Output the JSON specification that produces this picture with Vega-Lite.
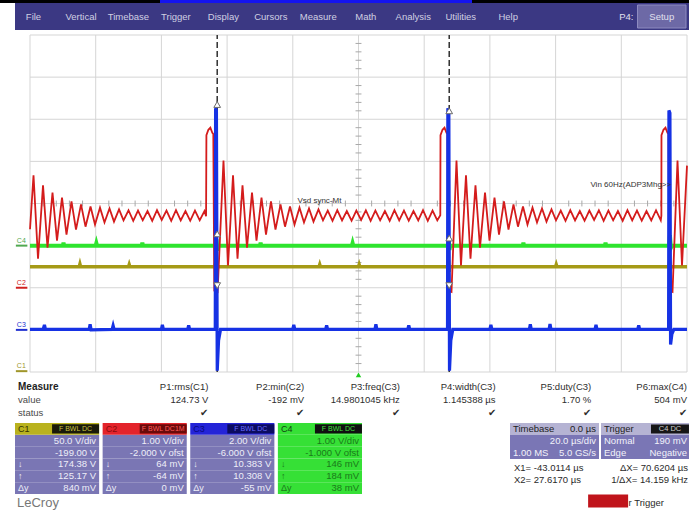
{
  "$schema": "https://vega.github.io/schema/vega-lite/v6.json",
  "width": 689,
  "height": 510,
  "padding": 0,
  "autosize": {"type": "none"},
  "background": "#ffffff",
  "config": {
    "view": {"stroke": null},
    "axis": {"disable": true},
    "legend": {"disable": true},
    "text": {"font": "Liberation Sans"}
  },
  "datasets": {
    "menu": [{"item": "File"}, {"item": "Vertical"}, {"item": "Timebase"}, {"item": "Trigger"}, {"item": "Display"}, {"item": "Cursors"}, {"item": "Measure"}, {"item": "Math"}, {"item": "Analysis"}, {"item": "Utilities"}, {"item": "Help"}],
    "vgrid": [{"t": -100}, {"t": -80}, {"t": -60}, {"t": -40}, {"t": -20}, {"t": 0}, {"t": 20}, {"t": 40}, {"t": 60}, {"t": 80}, {"t": 100}],
    "hgrid": [{"v": -4}, {"v": -3}, {"v": -2}, {"v": -1}, {"v": 0}, {"v": 1}, {"v": 2}, {"v": 3}, {"v": 4}],
    "tickx": [{"t": -96}, {"t": -92}, {"t": -88}, {"t": -84}, {"t": -76}, {"t": -72}, {"t": -68}, {"t": -64}, {"t": -56}, {"t": -52}, {"t": -48}, {"t": -44}, {"t": -36}, {"t": -32}, {"t": -28}, {"t": -24}, {"t": -16}, {"t": -12}, {"t": -8}, {"t": -4}, {"t": 4}, {"t": 8}, {"t": 12}, {"t": 16}, {"t": 24}, {"t": 28}, {"t": 32}, {"t": 36}, {"t": 44}, {"t": 48}, {"t": 52}, {"t": 56}, {"t": 64}, {"t": 68}, {"t": 72}, {"t": 76}, {"t": 84}, {"t": 88}, {"t": 92}, {"t": 96}],
    "ticky": [{"v": -3.8}, {"v": -3.6}, {"v": -3.4}, {"v": -3.2}, {"v": -2.8}, {"v": -2.6}, {"v": -2.4}, {"v": -2.2}, {"v": -1.8}, {"v": -1.6}, {"v": -1.4}, {"v": -1.2}, {"v": -0.8}, {"v": -0.6}, {"v": -0.4}, {"v": -0.2}, {"v": 0.2}, {"v": 0.4}, {"v": 0.6}, {"v": 0.8}, {"v": 1.2}, {"v": 1.4}, {"v": 1.6}, {"v": 1.8}, {"v": 2.2}, {"v": 2.4}, {"v": 2.6}, {"v": 2.8}, {"v": 3.2}, {"v": 3.4}, {"v": 3.6}, {"v": 3.8}],
    "cursors": [{"cursor": "X1", "t": -43.0114}, {"cursor": "X2", "t": 27.617}],
    "c1": [{"t": -100, "v": -1.5}, {"t": -85, "v": -1.5}, {"t": -84.8, "v": -1.44}, {"t": -84.6, "v": -1.5}, {"t": -70, "v": -1.5}, {"t": -69.8, "v": -1.45}, {"t": -69.6, "v": -1.5}, {"t": -43.6, "v": -1.5}, {"t": -43.4, "v": -1.34}, {"t": -43.2, "v": -1.64}, {"t": -43.0, "v": -1.5}, {"t": -12, "v": -1.5}, {"t": -11.8, "v": -1.45}, {"t": -11.6, "v": -1.5}, {"t": 0, "v": -1.5}, {"t": 0.2, "v": -1.45}, {"t": 0.4, "v": -1.5}, {"t": 27.2, "v": -1.5}, {"t": 27.4, "v": -1.35}, {"t": 27.6, "v": -1.62}, {"t": 27.8, "v": -1.5}, {"t": 60, "v": -1.5}, {"t": 60.2, "v": -1.45}, {"t": 60.4, "v": -1.5}, {"t": 94.5, "v": -1.5}, {"t": 94.7, "v": -1.38}, {"t": 94.9, "v": -1.58}, {"t": 95.1, "v": -1.5}, {"t": 100, "v": -1.5}],
    "c4": [{"t": -100, "v": -1.0}, {"t": -90, "v": -1.0}, {"t": -89.8, "v": -0.93}, {"t": -89.6, "v": -1.0}, {"t": -80, "v": -1.0}, {"t": -79.8, "v": -0.94}, {"t": -79.6, "v": -1.0}, {"t": -66, "v": -1.0}, {"t": -65.8, "v": -0.93}, {"t": -65.6, "v": -1.0}, {"t": -43.4, "v": -1.0}, {"t": -43.2, "v": -0.85}, {"t": -43.0, "v": -1.12}, {"t": -42.8, "v": -1.0}, {"t": -30, "v": -1.0}, {"t": -29.8, "v": -0.93}, {"t": -29.6, "v": -1.0}, {"t": -2, "v": -1.0}, {"t": -1.8, "v": -0.94}, {"t": -1.6, "v": -1.0}, {"t": 27.3, "v": -1.0}, {"t": 27.5, "v": -0.86}, {"t": 27.7, "v": -1.1}, {"t": 27.9, "v": -1.0}, {"t": 50, "v": -1.0}, {"t": 50.2, "v": -0.93}, {"t": 50.4, "v": -1.0}, {"t": 75, "v": -1.0}, {"t": 75.2, "v": -0.93}, {"t": 75.4, "v": -1.0}, {"t": 94.6, "v": -1.0}, {"t": 94.8, "v": -0.75}, {"t": 95.1, "v": -1.05}, {"t": 95.4, "v": -1.0}, {"t": 100, "v": -1.0}],
    "c3": [{"t": -100, "v": -2.99}, {"t": -96, "v": -2.99}, {"t": -95.6, "v": -2.88}, {"t": -95.3, "v": -2.99}, {"t": -82, "v": -2.99}, {"t": -81.7, "v": -2.87}, {"t": -81.4, "v": -3.0}, {"t": -75, "v": -2.99}, {"t": -74.7, "v": -2.9}, {"t": -74.4, "v": -2.99}, {"t": -60, "v": -2.99}, {"t": -59.7, "v": -2.88}, {"t": -59.4, "v": -2.99}, {"t": -52, "v": -2.99}, {"t": -51.7, "v": -2.89}, {"t": -51.4, "v": -2.99}, {"t": -43.6, "v": -2.99}, {"t": -43.5, "v": 2.26}, {"t": -43.25, "v": 2.2}, {"t": -43.0, "v": -3.97}, {"t": -42.6, "v": -3.25}, {"t": -42.0, "v": -2.99}, {"t": -20, "v": -2.99}, {"t": -19.7, "v": -2.88}, {"t": -19.4, "v": -2.99}, {"t": -10, "v": -2.99}, {"t": -9.7, "v": -2.89}, {"t": -9.4, "v": -2.99}, {"t": 5, "v": -2.99}, {"t": 5.3, "v": -2.87}, {"t": 5.6, "v": -2.99}, {"t": 15, "v": -2.99}, {"t": 15.3, "v": -2.89}, {"t": 15.6, "v": -2.99}, {"t": 27.1, "v": -2.99}, {"t": 27.2, "v": 2.26}, {"t": 27.5, "v": 2.2}, {"t": 27.7, "v": -3.97}, {"t": 28.1, "v": -3.25}, {"t": 28.7, "v": -2.99}, {"t": 40, "v": -2.99}, {"t": 40.3, "v": -2.88}, {"t": 40.6, "v": -2.99}, {"t": 52, "v": -2.99}, {"t": 52.3, "v": -2.87}, {"t": 52.6, "v": -2.99}, {"t": 58, "v": -2.99}, {"t": 58.3, "v": -2.86}, {"t": 58.6, "v": -2.99}, {"t": 72, "v": -2.99}, {"t": 72.3, "v": -2.88}, {"t": 72.6, "v": -2.99}, {"t": 85, "v": -2.99}, {"t": 85.3, "v": -2.89}, {"t": 85.6, "v": -2.99}, {"t": 94.4, "v": -2.99}, {"t": 94.5, "v": 2.21}, {"t": 94.8, "v": 2.15}, {"t": 95.0, "v": -3.35}, {"t": 95.4, "v": -3.1}, {"t": 96.0, "v": -2.99}, {"t": 100, "v": -2.99}],
    "c2": [{"t": -100, "v": -0.61}, {"t": -98.93, "v": 0.67}, {"t": -97.56, "v": -1.31}, {"t": -96.04, "v": 0.43}, {"t": -94.67, "v": -1.05}, {"t": -93.15, "v": 0.26}, {"t": -91.78, "v": -0.88}, {"t": -90.26, "v": 0.14}, {"t": -88.89, "v": -0.74}, {"t": -87.37, "v": 0.05}, {"t": -86.0, "v": -0.62}, {"t": -84.47, "v": -0.02}, {"t": -83.1, "v": -0.55}, {"t": -81.58, "v": -0.07}, {"t": -80.21, "v": -0.5}, {"t": -78.69, "v": -0.1}, {"t": -77.32, "v": -0.45}, {"t": -75.8, "v": -0.12}, {"t": -74.43, "v": -0.43}, {"t": -72.9, "v": -0.14}, {"t": -71.53, "v": -0.4}, {"t": -70.01, "v": -0.16}, {"t": -68.57, "v": -0.41}, {"t": -67.12, "v": -0.17}, {"t": -65.68, "v": -0.4}, {"t": -64.23, "v": -0.18}, {"t": -62.79, "v": -0.41}, {"t": -61.34, "v": -0.16}, {"t": -59.9, "v": -0.39}, {"t": -58.45, "v": -0.17}, {"t": -57.01, "v": -0.41}, {"t": -55.56, "v": -0.16}, {"t": -54.12, "v": -0.4}, {"t": -52.67, "v": -0.18}, {"t": -51.23, "v": -0.41}, {"t": -49.78, "v": -0.17}, {"t": -48.34, "v": -0.4}, {"t": -46.89, "v": -0.18}, {"t": -46.4, "v": -0.3}, {"t": -46.3, "v": 1.62}, {"t": -45.7, "v": 1.75}, {"t": -45.1, "v": 1.8}, {"t": -44.5, "v": 1.68}, {"t": -44.2, "v": 1.65}, {"t": -43.9, "v": -2.07}, {"t": -42.9, "v": -2.1}, {"t": -41.1, "v": 1.02}, {"t": -39.72, "v": -1.47}, {"t": -38.2, "v": 0.67}, {"t": -36.83, "v": -1.31}, {"t": -35.31, "v": 0.43}, {"t": -33.94, "v": -1.05}, {"t": -32.42, "v": 0.26}, {"t": -31.05, "v": -0.88}, {"t": -29.53, "v": 0.14}, {"t": -28.16, "v": -0.74}, {"t": -26.64, "v": 0.05}, {"t": -25.27, "v": -0.62}, {"t": -23.74, "v": -0.02}, {"t": -22.37, "v": -0.55}, {"t": -20.85, "v": -0.07}, {"t": -19.48, "v": -0.5}, {"t": -17.96, "v": -0.1}, {"t": -16.59, "v": -0.45}, {"t": -15.07, "v": -0.12}, {"t": -13.7, "v": -0.43}, {"t": -12.18, "v": -0.14}, {"t": -10.81, "v": -0.4}, {"t": -9.36, "v": -0.17}, {"t": -7.91, "v": -0.41}, {"t": -6.46, "v": -0.16}, {"t": -5.01, "v": -0.4}, {"t": -3.56, "v": -0.18}, {"t": -2.11, "v": -0.41}, {"t": -0.66, "v": -0.17}, {"t": 0.79, "v": -0.39}, {"t": 2.24, "v": -0.16}, {"t": 3.69, "v": -0.41}, {"t": 5.14, "v": -0.17}, {"t": 6.59, "v": -0.4}, {"t": 8.04, "v": -0.18}, {"t": 9.49, "v": -0.41}, {"t": 10.94, "v": -0.16}, {"t": 12.39, "v": -0.4}, {"t": 13.84, "v": -0.17}, {"t": 15.29, "v": -0.41}, {"t": 16.74, "v": -0.18}, {"t": 18.19, "v": -0.4}, {"t": 19.64, "v": -0.16}, {"t": 21.09, "v": -0.41}, {"t": 22.54, "v": -0.17}, {"t": 23.99, "v": -0.4}, {"t": 24.9, "v": -0.28}, {"t": 24.96, "v": 1.62}, {"t": 25.57, "v": 1.75}, {"t": 26.18, "v": 1.8}, {"t": 26.79, "v": 1.68}, {"t": 27.09, "v": 1.65}, {"t": 27.4, "v": -2.07}, {"t": 28.31, "v": -2.1}, {"t": 29.83, "v": 1.02}, {"t": 31.2, "v": -1.47}, {"t": 32.72, "v": 0.67}, {"t": 34.09, "v": -1.31}, {"t": 35.61, "v": 0.43}, {"t": 36.98, "v": -1.05}, {"t": 38.51, "v": 0.26}, {"t": 39.88, "v": -0.88}, {"t": 41.4, "v": 0.14}, {"t": 42.77, "v": -0.74}, {"t": 44.29, "v": 0.05}, {"t": 45.66, "v": -0.62}, {"t": 47.18, "v": -0.02}, {"t": 48.55, "v": -0.55}, {"t": 50.07, "v": -0.07}, {"t": 51.44, "v": -0.5}, {"t": 52.97, "v": -0.1}, {"t": 54.34, "v": -0.45}, {"t": 55.86, "v": -0.12}, {"t": 57.23, "v": -0.43}, {"t": 58.75, "v": -0.14}, {"t": 60.12, "v": -0.4}, {"t": 61.57, "v": -0.17}, {"t": 63.02, "v": -0.41}, {"t": 64.47, "v": -0.16}, {"t": 65.92, "v": -0.4}, {"t": 67.37, "v": -0.18}, {"t": 68.82, "v": -0.41}, {"t": 70.27, "v": -0.17}, {"t": 71.72, "v": -0.39}, {"t": 73.17, "v": -0.16}, {"t": 74.62, "v": -0.41}, {"t": 76.07, "v": -0.17}, {"t": 77.52, "v": -0.4}, {"t": 78.97, "v": -0.18}, {"t": 80.42, "v": -0.41}, {"t": 81.87, "v": -0.16}, {"t": 83.32, "v": -0.4}, {"t": 84.77, "v": -0.17}, {"t": 86.22, "v": -0.41}, {"t": 87.67, "v": -0.18}, {"t": 89.12, "v": -0.4}, {"t": 90.57, "v": -0.16}, {"t": 92.02, "v": -0.4}, {"t": 92.2, "v": -0.29}, {"t": 92.23, "v": 1.62}, {"t": 92.84, "v": 1.75}, {"t": 93.45, "v": 1.8}, {"t": 94.06, "v": 1.68}, {"t": 94.37, "v": 1.65}, {"t": 94.67, "v": -2.07}, {"t": 95.59, "v": -2.1}, {"t": 97.11, "v": 1.02}, {"t": 98.48, "v": -1.47}, {"t": 100, "v": 0.9}],
    "markers": [{"t": -43.0114, "v": 2.35, "dir": "up"}, {"t": 27.617, "v": 2.2, "dir": "up"}, {"t": -43.0114, "v": -0.72, "dir": "up"}, {"t": 27.617, "v": -0.82, "dir": "up"}, {"t": -43.0114, "v": -1.95, "dir": "down"}, {"t": 27.617, "v": -1.95, "dir": "down"}],
    "chlabels": [{"ch": "C4", "v": -1.0}, {"ch": "C2", "v": -2.0}, {"ch": "C3", "v": -3.0}, {"ch": "C1", "v": -3.98}],
    "notes": [{"t": -18.6, "v": 0.07, "note": "Vsd sync-Mt"}, {"t": 70.6, "v": 0.45, "note": "Vin 60Hz(ADP3Mhg>>"}],
    "trig": [{"t": 0, "v": -4.07}],
    "measure": [
      {"col": "label", "row": "Measure", "txt": "Measure"}, {"col": "label", "row": "value", "txt": "value"}, {"col": "label", "row": "status", "txt": "status"},
      {"col": "P1", "row": "Measure", "txt": "P1:rms(C1)"}, {"col": "P1", "row": "value", "txt": "124.73 V"}, {"col": "P1", "row": "status", "txt": "✔"},
      {"col": "P2", "row": "Measure", "txt": "P2:min(C2)"}, {"col": "P2", "row": "value", "txt": "-192 mV"}, {"col": "P2", "row": "status", "txt": "✔"},
      {"col": "P3", "row": "Measure", "txt": "P3:freq(C3)"}, {"col": "P3", "row": "value", "txt": "14.9801045 kHz"}, {"col": "P3", "row": "status", "txt": "✔"},
      {"col": "P4", "row": "Measure", "txt": "P4:width(C3)"}, {"col": "P4", "row": "value", "txt": "1.145388 µs"}, {"col": "P4", "row": "status", "txt": "✔"},
      {"col": "P5", "row": "Measure", "txt": "P5:duty(C3)"}, {"col": "P5", "row": "value", "txt": "1.70 %"}, {"col": "P5", "row": "status", "txt": "✔"},
      {"col": "P6", "row": "Measure", "txt": "P6:max(C4)"}, {"col": "P6", "row": "value", "txt": "504 mV"}, {"col": "P6", "row": "status", "txt": "✔"}
    ],
    "boxes": [
      {"ch": "C1", "r": "h", "txt": "C1", "sym": "F BWL DC"},
      {"ch": "C1", "r": "1", "txt": "50.0 V/div", "sym": ""},
      {"ch": "C1", "r": "2", "txt": "-199.00 V", "sym": ""},
      {"ch": "C1", "r": "3", "txt": "174.38 V", "sym": "↓"},
      {"ch": "C1", "r": "4", "txt": "125.17 V", "sym": "↑"},
      {"ch": "C1", "r": "5", "txt": "840 mV", "sym": "Δy"},
      {"ch": "C2", "r": "h", "txt": "C2", "sym": "F BWL DC1M"},
      {"ch": "C2", "r": "1", "txt": "1.00 V/div", "sym": ""},
      {"ch": "C2", "r": "2", "txt": "-2.000 V ofst", "sym": ""},
      {"ch": "C2", "r": "3", "txt": "64 mV", "sym": "↓"},
      {"ch": "C2", "r": "4", "txt": "-64 mV", "sym": "↑"},
      {"ch": "C2", "r": "5", "txt": "0 mV", "sym": "Δy"},
      {"ch": "C3", "r": "h", "txt": "C3", "sym": "F BWL DC"},
      {"ch": "C3", "r": "1", "txt": "2.00 V/div", "sym": ""},
      {"ch": "C3", "r": "2", "txt": "-6.000 V ofst", "sym": ""},
      {"ch": "C3", "r": "3", "txt": "10.383 V", "sym": "↓"},
      {"ch": "C3", "r": "4", "txt": "10.308 V", "sym": "↑"},
      {"ch": "C3", "r": "5", "txt": "-55 mV", "sym": "Δy"},
      {"ch": "C4", "r": "h", "txt": "C4", "sym": "F BWL DC"},
      {"ch": "C4", "r": "1", "txt": "1.00 V/div", "sym": ""},
      {"ch": "C4", "r": "2", "txt": "-1.000 V ofst", "sym": ""},
      {"ch": "C4", "r": "3", "txt": "146 mV", "sym": "↓"},
      {"ch": "C4", "r": "4", "txt": "184 mV", "sym": "↑"},
      {"ch": "C4", "r": "5", "txt": "38 mV", "sym": "Δy"},
      {"ch": "C1", "r": "logo", "txt": "LeCroy", "sym": ""}
    ],
    "panel": [
      {"p": "tb", "r": "h", "left": "Timebase", "right": "0.0 µs"},
      {"p": "trg", "r": "h", "left": "Trigger", "right": "", "chip": "C4 DC"},
      {"p": "tb", "r": "1", "left": "", "right": "20.0 µs/div"},
      {"p": "trg", "r": "1", "left": "Normal", "right": "190 mV"},
      {"p": "tb", "r": "2", "left": "1.00 MS", "right": "5.0 GS/s"},
      {"p": "trg", "r": "2", "left": "Edge", "right": "Negative"},
      {"p": "tb", "r": "x1", "left": "X1= -43.0114 µs", "right": ""},
      {"p": "trg", "r": "x1", "left": "", "right": "ΔX= 70.6204 µs"},
      {"p": "tb", "r": "x2", "left": "X2= 27.6170 µs", "right": ""},
      {"p": "trg", "r": "x2", "left": "", "right": "1/ΔX= 14.159 kHz"},
      {"p": "trg", "r": "msg", "left": "r Trigger", "right": ""}
    ]
  },
  "resolve": {"scale": {"x": "independent", "y": "independent", "color": "independent", "shape": "independent"}},
  "layer": [
    {
      "data": {"values": [{"zone": "frame"}]},
      "mark": {"type": "rect", "color": "#000000"},
      "encoding": {
        "x": {"field": "zone", "type": "nominal", "axis": null, "scale": {"type": "band", "domain": ["frame"], "range": [0, 689], "paddingInner": 0, "paddingOuter": 0}},
        "y": {"field": "zone", "type": "nominal", "axis": null, "scale": {"type": "band", "domain": ["frame"], "range": [0, 3], "paddingInner": 0, "paddingOuter": 0}}
      }
    },
    {
      "data": {"values": [{"zone": "tab"}]},
      "mark": {"type": "rect", "color": "#1414f0"},
      "encoding": {
        "x": {"field": "zone", "type": "nominal", "axis": null, "scale": {"type": "band", "domain": ["tab"], "range": [160, 472], "paddingInner": 0, "paddingOuter": 0}},
        "y": {"field": "zone", "type": "nominal", "axis": null, "scale": {"type": "band", "domain": ["tab"], "range": [0, 3], "paddingInner": 0, "paddingOuter": 0}}
      }
    },
    {
      "data": {"values": [{"zone": "menubar"}]},
      "mark": {"type": "rect", "color": "#3b3883"},
      "encoding": {
        "x": {"field": "zone", "type": "nominal", "axis": null, "scale": {"type": "band", "domain": ["menubar"], "range": [15, 689], "paddingInner": 0, "paddingOuter": 0}},
        "y": {"field": "zone", "type": "nominal", "axis": null, "scale": {"type": "band", "domain": ["menubar"], "range": [3, 30], "paddingInner": 0, "paddingOuter": 0}}
      }
    },
    {
      "data": {"name": "menu"},
      "mark": {"type": "text", "align": "center", "baseline": "middle", "fontSize": 9.5, "color": "#d0d0e2"},
      "encoding": {
        "x": {"field": "item", "type": "nominal", "sort": null, "axis": null, "scale": {"type": "point", "domain": ["File", "Vertical", "Timebase", "Trigger", "Display", "Cursors", "Measure", "Math", "Analysis", "Utilities", "Help"], "range": [33.5, 508.2], "padding": 0}},
        "y": {"datum": "menubar", "type": "nominal", "axis": null, "scale": {"type": "band", "domain": ["menubar"], "range": [3, 30], "paddingInner": 0, "paddingOuter": 0}},
        "text": {"field": "item"}
      }
    },
    {
      "data": {"values": [{"item": "P4:", "row": "btn"}, {"item": "Setup", "row": "btn"}]},
      "layer": [
        {
          "transform": [{"filter": "datum.item == 'Setup'"}],
          "mark": {"type": "rect", "color": "#6d69a6", "stroke": "#8e8bc0", "strokeWidth": 1},
          "encoding": {
            "x": {"field": "item", "type": "nominal", "axis": null, "scale": {"type": "band", "domain": ["P4:", "Setup"], "range": [589, 686], "paddingInner": 0, "paddingOuter": 0}},
            "y": {"field": "row", "type": "nominal", "axis": null, "scale": {"type": "band", "domain": ["btn"], "range": [5, 28], "paddingInner": 0, "paddingOuter": 0}}
          }
        },
        {
          "transform": [{"filter": "datum.item == 'Setup'"}],
          "mark": {"type": "text", "align": "center", "baseline": "middle", "fontSize": 9.5, "color": "#e0e0ee"},
          "encoding": {
            "x": {"field": "item", "type": "nominal", "axis": null},
            "y": {"field": "row", "type": "nominal", "axis": null},
            "text": {"field": "item"}
          }
        },
        {
          "transform": [{"filter": "datum.item == 'P4:'"}],
          "mark": {"type": "text", "align": "right", "baseline": "middle", "fontSize": 9.5, "color": "#e0e0ee", "dx": -4},
          "encoding": {
            "x": {"field": "item", "type": "nominal", "axis": null, "bandPosition": 1},
            "y": {"field": "row", "type": "nominal", "axis": null},
            "text": {"field": "item"}
          }
        }
      ]
    },
    {
      "layer": [
        {
          "data": {"name": "vgrid"},
          "mark": {"type": "rule", "color": "#d5d5d5", "strokeWidth": 1},
          "encoding": {
            "x": {"field": "t", "type": "quantitative", "axis": null, "scale": {"domain": [-100, 100], "range": [30, 687], "nice": false, "zero": false}},
            "y": {"datum": -4, "type": "quantitative", "axis": null, "scale": {"domain": [-4, 4], "range": [372, 35], "nice": false, "zero": false}},
            "y2": {"datum": 4}
          }
        },
        {
          "data": {"name": "hgrid"},
          "mark": {"type": "rule", "color": "#d5d5d5", "strokeWidth": 1},
          "encoding": {
            "x": {"datum": -100, "type": "quantitative", "axis": null},
            "x2": {"datum": 100},
            "y": {"field": "v", "type": "quantitative", "axis": null}
          }
        },
        {
          "data": {"name": "tickx"},
          "mark": {"type": "rule", "color": "#a8a8a8", "strokeWidth": 1},
          "encoding": {
            "x": {"field": "t", "type": "quantitative", "axis": null},
            "y": {"datum": -0.07, "type": "quantitative", "axis": null},
            "y2": {"datum": 0.07}
          }
        },
        {
          "data": {"name": "ticky"},
          "mark": {"type": "rule", "color": "#a8a8a8", "strokeWidth": 1},
          "encoding": {
            "x": {"datum": -0.9, "type": "quantitative", "axis": null},
            "x2": {"datum": 0.9},
            "y": {"field": "v", "type": "quantitative", "axis": null}
          }
        },
        {
          "data": {"name": "cursors"},
          "mark": {"type": "rule", "color": "#303030", "strokeWidth": 1.5, "strokeDash": [6, 3]},
          "encoding": {
            "x": {"field": "t", "type": "quantitative", "axis": null},
            "y": {"datum": -4, "type": "quantitative", "axis": null},
            "y2": {"datum": 4}
          }
        },
        {
          "data": {"name": "c1"},
          "mark": {"type": "line", "color": "#a59a16", "strokeWidth": 3.5},
          "encoding": {
            "x": {"field": "t", "type": "quantitative", "axis": null},
            "y": {"field": "v", "type": "quantitative", "axis": null}
          }
        },
        {
          "data": {"name": "c4"},
          "mark": {"type": "line", "color": "#2ee42e", "strokeWidth": 4},
          "encoding": {
            "x": {"field": "t", "type": "quantitative", "axis": null},
            "y": {"field": "v", "type": "quantitative", "axis": null}
          }
        },
        {
          "data": {"name": "c2"},
          "mark": {"type": "line", "color": "#d41c1c", "strokeWidth": 1.8},
          "encoding": {
            "x": {"field": "t", "type": "quantitative", "axis": null},
            "y": {"field": "v", "type": "quantitative", "axis": null}
          }
        },
        {
          "data": {"name": "c3"},
          "mark": {"type": "line", "color": "#1632e4", "strokeWidth": 3.2},
          "encoding": {
            "x": {"field": "t", "type": "quantitative", "axis": null},
            "y": {"field": "v", "type": "quantitative", "axis": null}
          }
        },
        {
          "data": {"name": "markers"},
          "mark": {"type": "point", "filled": true, "fill": "#ffffff", "stroke": "#6a6a6a", "strokeWidth": 1, "size": 45, "opacity": 1},
          "encoding": {
            "x": {"field": "t", "type": "quantitative", "axis": null},
            "y": {"field": "v", "type": "quantitative", "axis": null},
            "shape": {"field": "dir", "type": "nominal", "legend": null, "scale": {"domain": ["up", "down"], "range": ["triangle-up", "triangle-down"]}}
          }
        },
        {
          "data": {"name": "chlabels"},
          "mark": {"type": "rule", "strokeWidth": 2},
          "encoding": {
            "x": {"datum": -104.3, "type": "quantitative", "axis": null},
            "x2": {"datum": -100.8},
            "y": {"field": "v", "type": "quantitative", "axis": null},
            "color": {"field": "ch", "type": "nominal", "legend": null, "scale": {"domain": ["C1", "C2", "C3", "C4"], "range": ["#a0962a", "#d02020", "#2030d0", "#50a850"]}}
          }
        },
        {
          "data": {"name": "chlabels"},
          "mark": {"type": "text", "align": "left", "baseline": "bottom", "fontSize": 7, "dy": -2},
          "encoding": {
            "x": {"datum": -104.0, "type": "quantitative", "axis": null},
            "y": {"field": "v", "type": "quantitative", "axis": null},
            "text": {"field": "ch"},
            "color": {"field": "ch", "type": "nominal", "legend": null}
          }
        },
        {
          "data": {"name": "notes"},
          "mark": {"type": "text", "align": "left", "baseline": "middle", "fontSize": 8, "color": "#333333"},
          "encoding": {
            "x": {"field": "t", "type": "quantitative", "axis": null},
            "y": {"field": "v", "type": "quantitative", "axis": null},
            "text": {"field": "note"}
          }
        },
        {
          "data": {"name": "trig"},
          "mark": {"type": "point", "filled": true, "shape": "triangle-up", "color": "#22cc22", "size": 30, "opacity": 1},
          "encoding": {
            "x": {"field": "t", "type": "quantitative", "axis": null},
            "y": {"field": "v", "type": "quantitative", "axis": null}
          }
        }
      ]
    },
    {
      "data": {"name": "measure"},
      "layer": [
        {
          "transform": [{"filter": "datum.col == 'label' && datum.row == 'Measure'"}],
          "mark": {"type": "text", "align": "left", "baseline": "middle", "fontSize": 10, "fontWeight": "bold", "color": "#1e1e1e"},
          "encoding": {
            "x": {"field": "col", "type": "nominal", "axis": null, "bandPosition": 0, "scale": {"type": "band", "domain": ["label", "P1", "P2", "P3", "P4", "P5", "P6"], "range": [18, 688], "paddingInner": 0, "paddingOuter": 0}},
            "y": {"field": "row", "type": "nominal", "axis": null, "scale": {"type": "band", "domain": ["Measure", "value", "status"], "range": [381, 419], "paddingInner": 0, "paddingOuter": 0}},
            "text": {"field": "txt"}
          }
        },
        {
          "transform": [{"filter": "datum.col == 'label' && datum.row != 'Measure'"}],
          "mark": {"type": "text", "align": "left", "baseline": "middle", "fontSize": 9.5, "color": "#4a4a4a"},
          "encoding": {
            "x": {"field": "col", "type": "nominal", "axis": null, "bandPosition": 0},
            "y": {"field": "row", "type": "nominal", "axis": null},
            "text": {"field": "txt"}
          }
        },
        {
          "transform": [{"filter": "datum.col != 'label'"}],
          "mark": {"type": "text", "align": "right", "baseline": "middle", "fontSize": 9.5, "color": "#2e2e2e", "dx": -1},
          "encoding": {
            "x": {"field": "col", "type": "nominal", "axis": null, "bandPosition": 1},
            "y": {"field": "row", "type": "nominal", "axis": null},
            "text": {"field": "txt"}
          }
        }
      ]
    },
    {
      "data": {"name": "boxes"},
      "resolve": {"scale": {"color": "independent"}},
      "layer": [
        {
          "transform": [{"filter": "datum.r != 'h' && datum.r != 'logo'"}],
          "mark": {"type": "rect"},
          "encoding": {
            "x": {"field": "ch", "type": "nominal", "axis": null, "scale": {"type": "band", "domain": ["C1", "C2", "C3", "C4"], "range": [15, 362], "paddingInner": 0.04, "paddingOuter": 0}},
            "y": {"field": "r", "type": "nominal", "axis": null, "scale": {"type": "band", "domain": ["h", "1", "2", "3", "4", "5", "logo"], "range": [423, 505.8], "paddingInner": 0, "paddingOuter": 0}},
            "color": {"field": "ch", "type": "nominal", "legend": null, "scale": {"domain": ["C1", "C2", "C3", "C4"], "range": ["#7a76b4", "#7a76b4", "#7a76b4", "#36e036"]}}
          }
        },
        {
          "transform": [{"filter": "datum.r == 'h'"}],
          "mark": {"type": "rect"},
          "encoding": {
            "x": {"field": "ch", "type": "nominal", "axis": null},
            "y": {"field": "r", "type": "nominal", "axis": null},
            "color": {"field": "ch", "type": "nominal", "legend": null, "scale": {"domain": ["C1", "C2", "C3", "C4"], "range": ["#b9b21e", "#e3232b", "#2424d8", "#36e036"]}}
          }
        },
        {
          "transform": [{"filter": "datum.r == 'h'"}],
          "mark": {"type": "point", "filled": true, "shape": "M-1,-0.2H1V0.2H-1Z", "size": 2209, "opacity": 1, "strokeWidth": 0},
          "encoding": {
            "x": {"field": "ch", "type": "nominal", "axis": null, "bandPosition": 0.72},
            "y": {"field": "r", "type": "nominal", "axis": null},
            "color": {"field": "ch", "type": "nominal", "legend": null, "scale": {"domain": ["C1", "C2", "C3", "C4"], "range": ["#1a1a0a", "#6a0a0a", "#0c0c60", "#101010"]}}
          }
        },
        {
          "transform": [{"filter": "datum.r == 'h'"}],
          "mark": {"type": "text", "align": "center", "baseline": "middle", "fontSize": 7},
          "encoding": {
            "x": {"field": "ch", "type": "nominal", "axis": null, "bandPosition": 0.72},
            "y": {"field": "r", "type": "nominal", "axis": null},
            "text": {"field": "sym"},
            "color": {"field": "ch", "type": "nominal", "legend": null, "scale": {"domain": ["C1", "C2", "C3", "C4"], "range": ["#c8c040", "#ff5a5a", "#6a6aff", "#40e040"]}}
          }
        },
        {
          "transform": [{"filter": "datum.r == 'h'"}],
          "mark": {"type": "text", "align": "left", "baseline": "middle", "fontSize": 9, "dx": 3},
          "encoding": {
            "x": {"field": "ch", "type": "nominal", "axis": null, "bandPosition": 0},
            "y": {"field": "r", "type": "nominal", "axis": null},
            "text": {"field": "txt"},
            "color": {"field": "ch", "type": "nominal", "legend": null, "scale": {"domain": ["C1", "C2", "C3", "C4"], "range": ["#333300", "#8a0a0a", "#0a0a80", "#104010"]}}
          }
        },
        {
          "transform": [{"filter": "datum.r != 'h' && datum.r != 'logo'"}],
          "mark": {"type": "text", "align": "right", "baseline": "middle", "fontSize": 9.5, "dx": -3},
          "encoding": {
            "x": {"field": "ch", "type": "nominal", "axis": null, "bandPosition": 1},
            "y": {"field": "r", "type": "nominal", "axis": null},
            "text": {"field": "txt"},
            "color": {"field": "ch", "type": "nominal", "legend": null, "scale": {"domain": ["C1", "C2", "C3", "C4"], "range": ["#eeeef8", "#eeeef8", "#eeeef8", "#1a7a1a"]}}
          }
        },
        {
          "transform": [{"filter": "datum.r != 'h' && datum.r != 'logo'"}],
          "mark": {"type": "text", "align": "left", "baseline": "middle", "fontSize": 9, "dx": 3},
          "encoding": {
            "x": {"field": "ch", "type": "nominal", "axis": null, "bandPosition": 0},
            "y": {"field": "r", "type": "nominal", "axis": null},
            "text": {"field": "sym"},
            "color": {"field": "ch", "type": "nominal", "legend": null, "scale": {"domain": ["C1", "C2", "C3", "C4"], "range": ["#eeeef8", "#eeeef8", "#eeeef8", "#1a7a1a"]}}
          }
        },
        {
          "transform": [{"filter": "datum.r == 'logo'"}],
          "mark": {"type": "text", "align": "left", "baseline": "middle", "fontSize": 13, "dx": 2, "dy": 3, "color": "#777777"},
          "encoding": {
            "x": {"field": "ch", "type": "nominal", "axis": null, "bandPosition": 0},
            "y": {"field": "r", "type": "nominal", "axis": null},
            "text": {"field": "txt"}
          }
        }
      ]
    },
    {
      "data": {"name": "panel"},
      "layer": [
        {
          "transform": [{"filter": "datum.r == 'h'"}],
          "mark": {"type": "rect", "color": "#b5b3d3"},
          "encoding": {
            "x": {"field": "p", "type": "nominal", "axis": null, "scale": {"type": "band", "domain": ["tb", "trg"], "range": [510, 690], "paddingInner": 0.022, "paddingOuter": 0}},
            "y": {"field": "r", "type": "nominal", "axis": null, "scale": {"type": "band", "domain": ["h", "1", "2", "x1", "x2", "gap", "msg"], "range": [423, 507], "paddingInner": 0, "paddingOuter": 0}}
          }
        },
        {
          "transform": [{"filter": "datum.r == '1' || datum.r == '2'"}],
          "mark": {"type": "rect", "color": "#7a76b5"},
          "encoding": {
            "x": {"field": "p", "type": "nominal", "axis": null},
            "y": {"field": "r", "type": "nominal", "axis": null}
          }
        },
        {
          "transform": [{"filter": "datum.r == 'h' || datum.r == '1' || datum.r == '2'"}],
          "mark": {"type": "text", "align": "left", "baseline": "middle", "fontSize": 9.5, "dx": 3},
          "encoding": {
            "x": {"field": "p", "type": "nominal", "axis": null, "bandPosition": 0},
            "y": {"field": "r", "type": "nominal", "axis": null},
            "text": {"field": "left"},
            "color": {"condition": {"test": "datum.r == 'h'", "value": "#1e1e1e"}, "value": "#f2f2fa"}
          }
        },
        {
          "transform": [{"filter": "datum.r == 'h' || datum.r == '1' || datum.r == '2'"}],
          "mark": {"type": "text", "align": "right", "baseline": "middle", "fontSize": 9.5, "dx": -3},
          "encoding": {
            "x": {"field": "p", "type": "nominal", "axis": null, "bandPosition": 1},
            "y": {"field": "r", "type": "nominal", "axis": null},
            "text": {"field": "right"},
            "color": {"condition": {"test": "datum.r == 'h'", "value": "#1e1e1e"}, "value": "#f2f2fa"}
          }
        },
        {
          "transform": [{"filter": "datum.r == 'x1' || datum.r == 'x2'"}],
          "mark": {"type": "text", "align": "left", "baseline": "middle", "fontSize": 9.5, "dx": 4, "dy": 3, "color": "#2a2a2a"},
          "encoding": {
            "x": {"field": "p", "type": "nominal", "axis": null, "bandPosition": 0},
            "y": {"field": "r", "type": "nominal", "axis": null},
            "text": {"field": "left"}
          }
        },
        {
          "transform": [{"filter": "datum.r == 'x1' || datum.r == 'x2'"}],
          "mark": {"type": "text", "align": "right", "baseline": "middle", "fontSize": 9.5, "dx": -2, "dy": 3, "color": "#2a2a2a"},
          "encoding": {
            "x": {"field": "p", "type": "nominal", "axis": null, "bandPosition": 1},
            "y": {"field": "r", "type": "nominal", "axis": null},
            "text": {"field": "right"}
          }
        },
        {
          "transform": [{"filter": "isValid(datum.chip)"}],
          "mark": {"type": "point", "filled": true, "shape": "M-1,-0.24H1V0.24H-1Z", "size": 1444, "opacity": 1, "strokeWidth": 0, "color": "#161616"},
          "encoding": {
            "x": {"field": "p", "type": "nominal", "axis": null, "bandPosition": 0.775},
            "y": {"field": "r", "type": "nominal", "axis": null}
          }
        },
        {
          "transform": [{"filter": "isValid(datum.chip)"}],
          "mark": {"type": "text", "align": "center", "baseline": "middle", "fontSize": 7.5, "color": "#d0d0d0"},
          "encoding": {
            "x": {"field": "p", "type": "nominal", "axis": null, "bandPosition": 0.775},
            "y": {"field": "r", "type": "nominal", "axis": null},
            "text": {"field": "chip"}
          }
        },
        {
          "transform": [{"filter": "datum.r == 'msg'"}],
          "mark": {"type": "point", "filled": true, "shape": "M-1,-0.32H1V0.32H-1Z", "size": 1600, "opacity": 1, "strokeWidth": 0, "color": "#c0141b"},
          "encoding": {
            "x": {"field": "p", "type": "nominal", "axis": null, "bandPosition": 0.08},
            "y": {"field": "r", "type": "nominal", "axis": null}
          }
        },
        {
          "transform": [{"filter": "datum.r == 'msg'"}],
          "mark": {"type": "text", "align": "left", "baseline": "middle", "fontSize": 9.5, "dy": 2, "color": "#2a2a2a"},
          "encoding": {
            "x": {"field": "p", "type": "nominal", "axis": null, "bandPosition": 0.31},
            "y": {"field": "r", "type": "nominal", "axis": null},
            "text": {"field": "left"}
          }
        }
      ]
    }
  ]
}
